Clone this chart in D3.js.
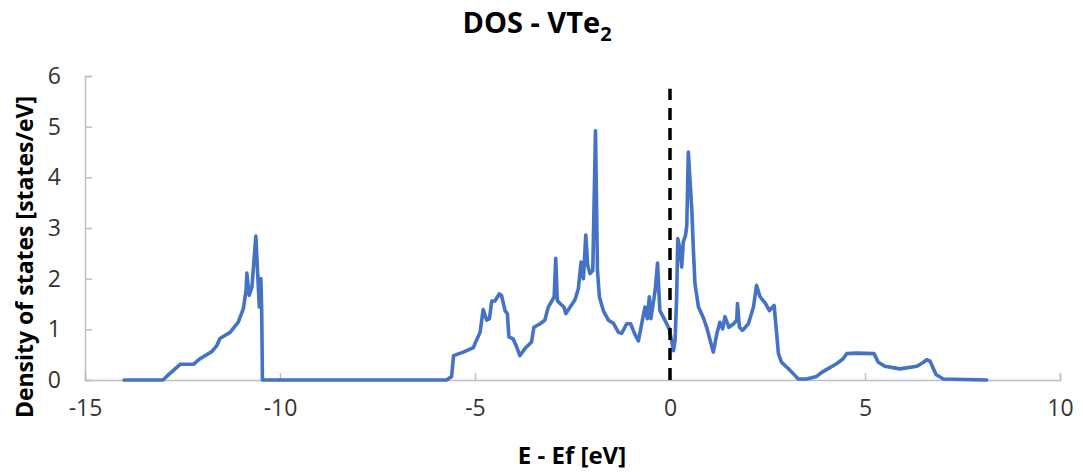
<!DOCTYPE html>
<html>
<head>
<meta charset="utf-8">
<script src="https://cdn.jsdelivr.net/npm/d3@7"></script>
<style>
  body { margin: 0; background: #fff; }
  text { font-family: "Open Sans", "Liberation Sans", sans-serif; }
</style>
</head>
<body>
<svg width="1083" height="472"></svg>
<script>
// energy (E - Ef, eV)
var energy = [-14.0, -13.0, -12.85, -12.56, -12.22, -12.05, -11.75, -11.62, -11.54, -11.28, -11.07, -10.94, -10.87,
  -10.85, -10.79, -10.72, -10.62, -10.53, -10.49, -10.47, -10.45,
  -5.73, -5.6, -5.55, -5.3, -5.04, -5.0, -4.87, -4.79, -4.7, -4.63, -4.57, -4.49, -4.38, -4.32, -4.23, -4.17,
  -4.13, -4.02, -3.93, -3.85, -3.72, -3.55, -3.49, -3.33, -3.21, -3.12, -2.97, -2.93, -2.89, -2.82, -2.72,
  -2.67, -2.56, -2.44, -2.35, -2.28, -2.22, -2.16, -2.11, -2.05, -1.98, -1.91, -1.86, -1.81, -1.71, -1.58,
  -1.45, -1.32, -1.24, -1.11, -1.01, -0.9, -0.81, -0.7, -0.64, -0.58, -0.53, -0.49, -0.38, -0.32, -0.26,
  -0.13, -0.02, 0.04, 0.09, 0.13, 0.17, 0.2, 0.26, 0.3, 0.34, 0.4, 0.43, 0.47, 0.51, 0.56, 0.6, 0.64, 0.73,
  0.85, 0.94, 1.03, 1.11, 1.2, 1.28, 1.35, 1.41, 1.51, 1.62, 1.71, 1.73, 1.78, 1.86, 2.01, 2.14, 2.22, 2.31,
  2.44, 2.55, 2.67, 2.72, 2.78, 2.86, 3.08, 3.29, 3.5, 3.76, 3.89, 4.27, 4.44, 4.53, 4.79, 5.23, 5.34, 5.51,
  5.9, 6.33, 6.5, 6.58, 6.67, 6.82, 7.01, 8.12];

// density of states [states/eV]
var dos = [0, 0, 0.11, 0.31, 0.31, 0.42, 0.56, 0.68, 0.82, 0.94, 1.14, 1.41, 1.77,
  2.11, 1.67, 1.83, 2.84, 1.44, 2.0, 1.4, 0,
  0, 0.07, 0.48, 0.55, 0.64, 0.72, 0.94, 1.39, 1.18, 1.21, 1.56, 1.56, 1.7, 1.67, 1.37, 1.31,
  0.85, 0.81, 0.65, 0.48, 0.62, 0.75, 1.04, 1.11, 1.18, 1.44, 1.64, 2.4, 1.57, 1.51, 1.44,
  1.31, 1.44, 1.58, 1.8, 2.33, 2.0, 2.86, 2.26, 2.1, 2.16, 4.92, 2.16, 1.64, 1.37, 1.18,
  1.12, 0.94, 0.92, 1.11, 1.11, 0.9, 0.77, 1.21, 1.44, 1.21, 1.64, 1.21, 1.77, 2.31, 1.37,
  1.18, 1.01, 0.78, 0.58, 0.78, 1.64, 2.79, 2.56, 2.23, 2.72, 2.86, 3.05, 4.5, 3.98, 3.35, 2.56, 1.9, 1.44,
  1.24, 1.04, 0.78, 0.55, 0.91, 1.14, 1.01, 1.25, 1.04, 1.1, 1.18, 1.51, 1.04, 0.98, 1.11, 1.44, 1.87, 1.64,
  1.52, 1.37, 1.47, 1.04, 0.52, 0.35, 0.19, 0.02, 0.02, 0.07, 0.15, 0.32, 0.42, 0.52, 0.53, 0.52, 0.35, 0.27,
  0.22, 0.27, 0.35, 0.4, 0.37, 0.11, 0.02, 0];

// Fermi level marker
var fermiX = [0, 0];
var fermiY = [0, 5.75];

var xTicks = [-15, -10, -5, 0, 5, 10];
var yTicks = [0, 1, 2, 3, 4, 5, 6];

var svg = d3.select("svg");
var margin = {left: 85, right: 23, top: 76, bottom: 92};
var width = +svg.attr("width"), height = +svg.attr("height");

var x = d3.scaleLinear().domain([-15, 10]).range([margin.left, width - margin.right]);
var y = d3.scaleLinear().domain([0, 6]).range([height - margin.bottom, margin.top]);

//plain hyphen minus like the original
var fmt = function(d) { return String(d); };

//axes, ticks pointing into the plot
var xAxis = svg.append("g")
    .attr("transform", "translate(0," + y(0) + ")")
    .call(d3.axisBottom(x).tickValues(xTicks).tickFormat(fmt).tickSize(-7).tickPadding(20));
var yAxis = svg.append("g")
    .attr("transform", "translate(" + x(-15) + ",0)")
    .call(d3.axisLeft(y).tickValues(yTicks).tickFormat(fmt).tickSize(-7).tickPadding(24));

[xAxis, yAxis].forEach(function(a) {
  a.select(".domain").attr("stroke", "#bfbfbf").attr("stroke-width", 1.5);
  a.selectAll(".tick line").attr("stroke", "#bfbfbf").attr("stroke-width", 1.5);
  a.selectAll(".tick text").attr("fill", "#333")
    .style("font-family", "'Open Sans', sans-serif").style("font-size", "23px");
});

//the DOS curve
var pts = energy.map(function(e, i) { return [e, dos[i]]; });
var line = d3.line().x(function(d) { return x(d[0]); }).y(function(d) { return y(d[1]); });

svg.append("path")
    .datum(pts)
    .attr("fill", "none")
    .attr("stroke", "#4472c4")
    .attr("stroke-width", 3.6)
    .attr("stroke-linejoin", "round")
    .attr("stroke-linecap", "round")
    .attr("d", line);

//dashed line at Ef
svg.append("path")
    .datum(fermiX.map(function(v, i) { return [v, fermiY[i]]; }))
    .attr("fill", "none")
    .attr("stroke", "#000")
    .attr("stroke-width", 3.5)
    .attr("stroke-dasharray", "12,8")
    .attr("d", line);

//titles
var title = svg.append("text")
    .attr("x", 537).attr("y", 33)
    .attr("text-anchor", "middle")
    .style("font-size", "29px").style("font-weight", "bold")
    .text("DOS - VTe");
title.append("tspan").attr("dy", 8).style("font-size", "20px").text("2");

svg.append("text")
    .attr("x", 572).attr("y", 464)
    .attr("text-anchor", "middle")
    .style("font-size", "24px").style("font-weight", "bold")
    .text("E - Ef [eV]");

svg.append("text")
    .attr("transform", "translate(33," + 257 + ") rotate(-90)")
    .attr("text-anchor", "middle")
    .style("font-size", "23px").style("font-weight", "bold")
    .text("Density of states [states/eV]");
</script>
</body>
</html>
